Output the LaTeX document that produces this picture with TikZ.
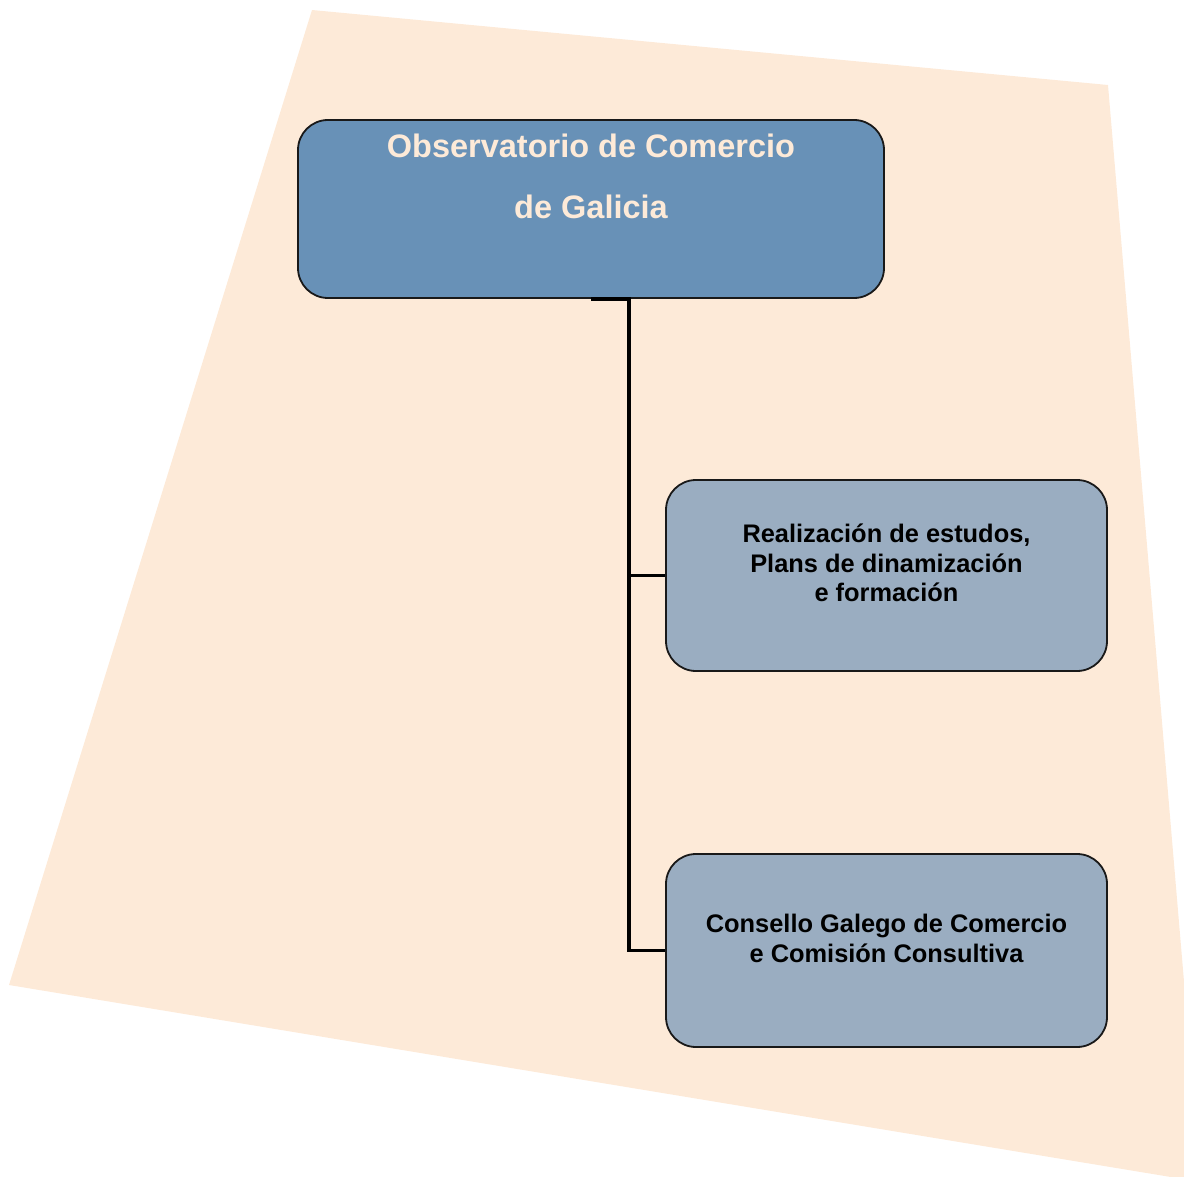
\documentclass[tikz,border=0pt]{standalone}
\usepackage{fontspec}
\setmainfont{Liberation Sans}
\usetikzlibrary{positioning}
\definecolor{fondo}{HTML}{FDEAD8}
\definecolor{azulobs}{HTML}{6891B7}
\definecolor{grisazul}{HTML}{9AADC1}

\begin{document}
\begin{tikzpicture}[x=1pt,y=-1pt,
  caixa/.style={draw=black!90, line width=1.8pt, rounded corners=30pt, inner sep=0pt},
  texto/.style={inner sep=0pt, align=center, font=\bfseries\fontsize{25.4}{29.5}\selectfont},
  link/.style={line width=3.8pt}]
  \clip (0,0) rectangle (1184,1177);
  % peach sheet behind the chart
  \fill[fondo] (312,10) -- (1108,85) -- (1201,1182) -- (9,985) -- cycle;

  % boxes
  \node[caixa, fill=azulobs, minimum width=586pt, minimum height=178pt] (obs) at (591,209) {};
  \node[caixa, fill=grisazul, minimum width=441pt, minimum height=191pt] (estudos) at (886.5,575.5) {};
  \node[caixa, fill=grisazul, minimum width=441pt, minimum height=193pt] (consello) at (886.5,950.5) {};

  % texts, hung from the top edge of each box
  \node[texto, text=fondo, font=\bfseries\fontsize{32.5}{61}\selectfont, below=15pt of obs.north] (obstxt)
    {Observatorio de Comercio\\de Galicia};
  \node[texto, below=45pt of estudos.north] (estudostxt)
    {Realización de estudos,\\Plans de dinamización\\e formación};
  \node[texto, below=61pt of consello.north] (consellotxt)
    {Consello Galego de Comercio\\e Comisión Consultiva};

  % connectors
  \draw[link] (obs.south) -- ++(38,0) coordinate (eixo) |- (estudos.west);
  \draw[link] (eixo) |- (consello.west);
\end{tikzpicture}
\end{document}
